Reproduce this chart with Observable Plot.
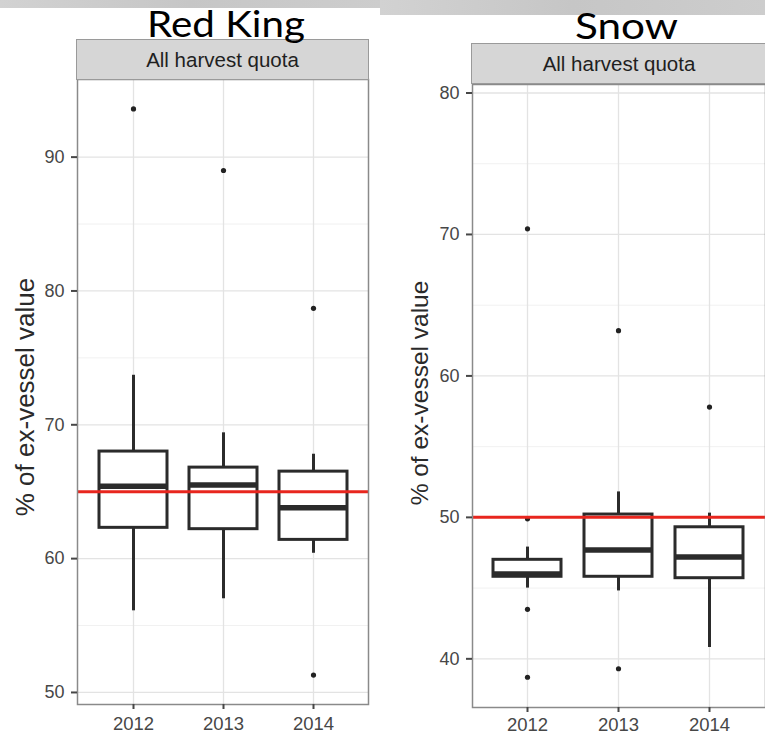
<!DOCTYPE html>
<html><head><meta charset="utf-8">
<script src="https://cdn.jsdelivr.net/npm/d3@7"></script>
<script src="https://cdn.jsdelivr.net/npm/@observablehq/plot@0.6"></script>
<style>
html,body{margin:0;padding:0;background:#fff;}
#root{position:relative;width:765px;height:735px;overflow:hidden;font-family:"Liberation Sans",Arial,sans-serif;}
.strip{position:absolute;background:#d6d6d6;border:1px solid #9a9a9a;box-sizing:border-box;color:#1f1f1f;font-size:20.5px;display:flex;align-items:center;justify-content:center;}
.plotsvg{position:absolute;top:0;}
</style></head><body><div id="root"></div>
<script>
// Categories
const years = ["2012", "2013", "2014"];

// Red King box statistics (% of ex-vessel value)
const redKingLow = [56.1, 57.0, 60.4];
const redKingQ1 = [62.3, 62.2, 61.4];
const redKingMedian = [65.4, 65.5, 63.8];
const redKingQ3 = [68.0, 66.8, 66.5];
const redKingHigh = [73.7, 69.4, 67.8];
const redKingOutlierYears = ["2012", "2013", "2014", "2014"];
const redKingOutlierValues = [93.6, 89.0, 78.7, 51.3];
const redKingReference = [65];
const redKingTicks = [50, 60, 70, 80, 90];
const redKingMinorTicks = [55, 65, 75, 85];

// Snow box statistics (% of ex-vessel value)
const snowLow = [45.0, 44.8, 40.8];
const snowQ1 = [45.8, 45.8, 45.7];
const snowMedian = [46.0, 47.7, 47.2];
const snowQ3 = [47.0, 50.2, 49.3];
const snowHigh = [47.9, 51.8, 50.3];
const snowOutlierYears = ["2012", "2012", "2012", "2012", "2013", "2013", "2014"];
const snowOutlierValues = [70.4, 49.9, 43.5, 38.7, 63.2, 39.3, 57.8];
const snowReference = [50];
const snowTicks = [40, 50, 60, 70, 80];
const snowMinorTicks = [45, 55, 65, 75];

const titles = ["Red King", "Snow"];
const stripLabel = "All harvest quota";
const yLabel = "% of ex-vessel value";

function panel(p) {
  const boxes = years.map((y, i) => ({year: y, low: p.low[i], q1: p.q1[i], med: p.med[i], q3: p.q3[i], high: p.high[i]}));
  const outs = p.outYears.map((y, i) => ({year: y, value: p.outValues[i]}));
  const svg = Plot.plot({
    width: p.width, height: 735,
    marginLeft: p.marginLeft, marginRight: p.marginRight, marginTop: p.marginTop, marginBottom: p.marginBottom,
    style: {fontFamily: "Liberation Sans, Arial, sans-serif", background: "transparent", overflow: "visible"},
    x: {type: "band", domain: years, paddingInner: 0.25, paddingOuter: 0.225, label: null},
    y: {domain: p.domain, label: null},
    marks: [
      Plot.gridY(p.minor, {stroke: "#f1f1f1", strokeOpacity: 1, strokeWidth: 1}),
      Plot.gridY(p.ticks, {stroke: "#e3e3e3", strokeOpacity: 1, strokeWidth: 1.3}),
      Plot.gridX(years, {stroke: "#e3e3e3", strokeOpacity: 1, strokeWidth: 1.3}),
      Plot.ruleX(boxes, {x: "year", y1: "low", y2: "high", stroke: "#2b2b2b", strokeWidth: 3}),
      Plot.barY(boxes, {x: "year", y1: "q1", y2: "q3", fill: "white", stroke: "#2b2b2b", strokeWidth: 3}),
      Plot.tickY(boxes, {x: "year", y: "med", stroke: "#2b2b2b", strokeWidth: 5.5}),
      Plot.dot(outs, {x: "year", y: "value", r: 2.6, fill: "#222", stroke: "none"}),
      Plot.ruleY(p.ref, {stroke: "#e8261e", strokeWidth: 3}),
      Plot.frame({stroke: "#8a8a8a", strokeWidth: 1.5}),
      Plot.axisY(p.ticks, {tickSize: 6, tickPadding: 7, fontSize: 18, color: "#474747", strokeWidth: 2, label: null}),
      Plot.axisX(years, {tickSize: 5, tickPadding: p.xPad, fontSize: 18.5, color: "#474747", strokeWidth: 2, label: null}),
      Plot.text([yLabel], {frameAnchor: "left", rotate: -90, dx: -52, dy: p.labelDy, fontSize: p.labelSize, fill: "#2a2a2a", textAnchor: "middle", lineAnchor: "middle"})
    ]
  });
  svg.classList.add("plotsvg");
  svg.style.left = p.left + "px";
  return svg;
}

const root = document.getElementById("root");

// top banner strip (decorative background)
const bg = document.createElementNS("http://www.w3.org/2000/svg", "svg");
bg.setAttribute("width", 765); bg.setAttribute("height", 735);
bg.style.position = "absolute"; bg.style.left = "0"; bg.style.top = "0";
bg.innerHTML = `<defs><linearGradient id="g" x1="0" x2="1"><stop offset="0" stop-color="#d2d2d2"/><stop offset="0.5" stop-color="#c6c6c6"/><stop offset="1" stop-color="#cdcdcd"/></linearGradient></defs>
<rect x="0" y="0" width="380" height="8" fill="url(#g)"/><rect x="380" y="0" width="385" height="15" fill="url(#g)"/>`;
root.appendChild(bg);

root.appendChild(panel({
  low: redKingLow, q1: redKingQ1, med: redKingMedian, q3: redKingQ3, high: redKingHigh,
  outYears: redKingOutlierYears, outValues: redKingOutlierValues, ref: redKingReference,
  ticks: redKingTicks, minor: redKingMinorTicks, domain: [49.1, 95.8],
  width: 380, left: 0, marginLeft: 77, marginRight: 12, marginTop: 79, marginBottom: 31,
  labelDy: 5, labelSize: 26, xPad: 7
}));
root.appendChild(panel({
  low: snowLow, q1: snowQ1, med: snowMedian, q3: snowQ3, high: snowHigh,
  outYears: snowOutlierYears, outValues: snowOutlierValues, ref: snowReference,
  ticks: snowTicks, minor: snowMinorTicks, domain: [36.56, 80.6],
  width: 385, left: 380, marginLeft: 92, marginRight: 0, marginTop: 84, marginBottom: 28,
  labelDy: -3, labelSize: 24.5, xPad: 5
}));

function strip(left, top, width) {
  const d = document.createElement("div");
  d.className = "strip";
  d.style.left = left + "px"; d.style.top = top + "px";
  d.style.width = width + "px"; d.style.height = "41px";
  d.textContent = stripLabel;
  root.appendChild(d);
}
strip(76, 39, 293);
strip(471, 43, 296);

// titles
const tt = document.createElementNS("http://www.w3.org/2000/svg", "svg");
tt.setAttribute("width", 765); tt.setAttribute("height", 735);
tt.style.position = "absolute"; tt.style.left = "0"; tt.style.top = "0";
const pos = [[147, 37, 158], [575, 39, 103]];
titles.forEach((t, i) => {
  const el = document.createElementNS("http://www.w3.org/2000/svg", "text");
  el.setAttribute("x", pos[i][0]);
  el.setAttribute("y", pos[i][1]);
  el.setAttribute("textLength", pos[i][2]);
  el.setAttribute("lengthAdjust", "spacingAndGlyphs");
  el.setAttribute("font-family", "Lato, Open Sans, sans-serif");
  el.setAttribute("font-size", "37");
  el.setAttribute("fill", "#000");
  el.textContent = t;
  tt.appendChild(el);
});
root.appendChild(tt);
</script></body></html>
